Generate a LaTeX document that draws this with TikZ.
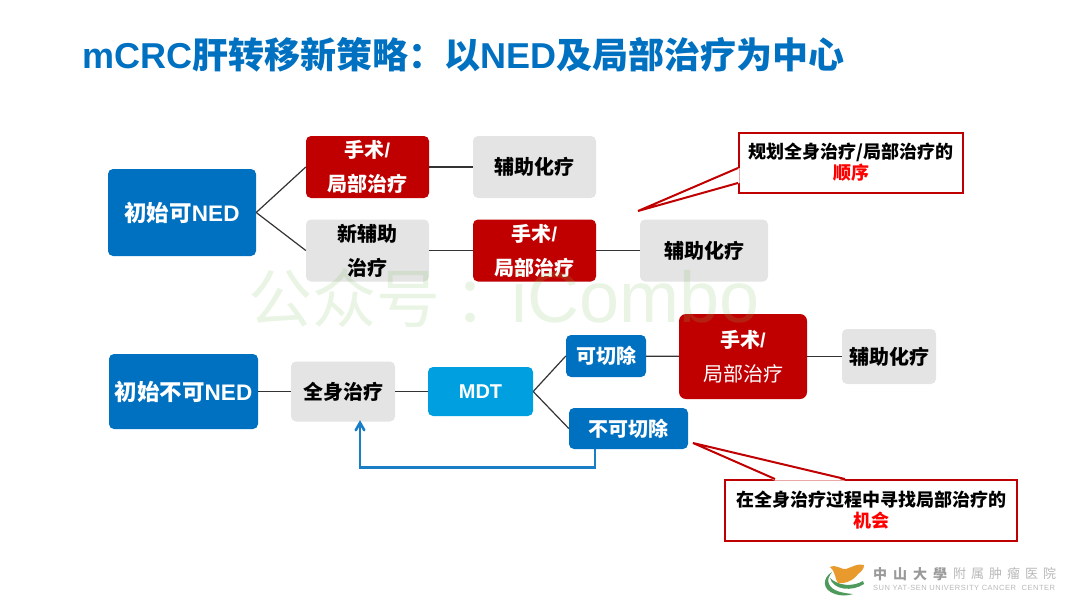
\documentclass[tikz,border=0pt]{standalone}
\usepackage{fontspec}
\setmainfont{Noto Sans CJK SC}
\newfontfamily\lat{Liberation Sans}
\newfontfamily\latspaced[LetterSpace=7]{Liberation Sans}
\usetikzlibrary{arrows}
\definecolor{titleblue}{HTML}{0070C0}
\definecolor{mdtblue}{HTML}{00A0E0}
\definecolor{boxred}{HTML}{C00000}
\definecolor{boxgray}{HTML}{E4E4E4}
\definecolor{markgreen}{HTML}{7FC060}
\definecolor{logoorange}{HTML}{E89A2C}
\definecolor{logogreen}{HTML}{4E9A5C}
\definecolor{logogray}{HTML}{9A9A9A}
\tikzstyle{box} = [rectangle, rounded corners=5pt, inner sep=0pt, align=center, font=\bfseries\fontsize{20}{34}\selectfont]
\tikzstyle{start} = [box, fill=titleblue, text=white, minimum width=148pt, font=\bfseries\fontsize{22.5}{34}\selectfont]
\tikzstyle{blue} = [box, fill=titleblue, text=white, minimum height=41pt]
\tikzstyle{surgery} = [box, fill=boxred, text=white, minimum width=123pt, minimum height=62pt]
\tikzstyle{grey} = [box, fill=boxgray, text=black, minimum width=123pt, minimum height=62pt]
\tikzstyle{note} = [rectangle, draw=boxred, line width=2pt, fill=white, inner sep=0pt, align=center, font=\bfseries\fontsize{18}{21}\selectfont]
\tikzstyle{tail} = [draw=boxred, line width=2pt, line join=miter]
\tikzstyle{line} = [line width=1.2pt, draw=black!80]
\tikzstyle{arrow} = [line width=2.6pt, draw=titleblue!90, ->, >=angle 60]
\begin{document}
\begin{tikzpicture}[x=1pt, y=-1pt]
    \useasboundingbox (0,0) rectangle (1080,608);
    \node (title) [anchor=west, text=titleblue, inner sep=0pt, font=\bfseries\fontsize{36}{40}\selectfont] at (82,55) {{\lat mCRC}肝转移新策略：以{\lat NED}及局部治疗为中心};

    \node (ned) [start, minimum height=87pt] at (182,212.5) {初始可{\lat NED}};
    \node (surgeryA) [surgery] at (367.5,167) {手术{\lat /}\\局部治疗};
    \node (chemoA) [grey, node distance=167pt, right of=surgeryA] {辅助化疗};
    \node (neo) [grey] at (367.5,250.5) {新辅助\\治疗};
    \node (surgeryB) [surgery, node distance=167pt, right of=neo] {手术{\lat /}\\局部治疗};
    \node (chemoB) [grey, minimum width=128pt, node distance=169.5pt, right of=surgeryB] {辅助化疗};

    \node (noned) [start, minimum width=149pt, minimum height=75pt] at (183.5,391.5) {初始不可{\lat NED}};
    \node (systemic) [grey, minimum width=104pt, minimum height=60pt, node distance=159.5pt, right of=noned] {全身治疗};
    \node (mdt) [box, fill=mdtblue, text=white, minimum width=105pt, minimum height=49pt, node distance=137.5pt, right of=systemic] {\lat MDT};
    \node (resect) [blue, minimum width=80pt, minimum height=42pt] at (606,356) {可切除};
    \node (unresect) [blue, minimum width=119pt] at (628.5,428.5) {不可切除};
    \node (surgeryC) [surgery, minimum width=128pt, minimum height=85pt, rounded corners=7pt] at (743,356.5) {手术{\lat /}\\{\mdseries 局部治疗}};
    \node (chemoC) [grey, minimum width=94pt, minimum height=55pt, node distance=146pt, right of=surgeryC] {辅助化疗};

    \draw [line] (ned.east) -- (surgeryA.west);
    \draw [line] (ned.east) -- (neo.west);
    \draw [line] (surgeryA) -- (chemoA);
    \draw [line] (neo) -- (surgeryB);
    \draw [line] (surgeryB) -- (chemoB);
    \draw [line] (noned) -- (systemic);
    \draw [line] (systemic) -- (mdt);
    \draw [line] (mdt.east) -- (resect.west);
    \draw [line] (mdt.east) -- (unresect.west);
    \draw [line] (resect) -- (surgeryC);
    \draw [line] (surgeryC) -- (chemoC);
    \draw [arrow] ([xshift=-33.5pt]unresect.south) -- ++(0,18) -| ([xshift=17pt,yshift=1.5pt]systemic.south);

    \node (orderNote) [note, minimum width=224pt, minimum height=60pt] at (851,162.5) {规划全身治疗/局部治疗的\\{\color{red}顺序}};
    \coordinate (orderTip) at (638,211);
    \fill [white] ([yshift=-5.5pt,xshift=1.5pt]orderNote.west) -- (orderTip) -- ([yshift=-20.5pt,xshift=1.5pt]orderNote.west) -- cycle;
    \draw [tail] ([yshift=-5.5pt]orderNote.west) -- (orderTip) -- ([yshift=-20.5pt]orderNote.west);

    \node (chanceNote) [note, minimum width=292pt, minimum height=61pt] at (871,510.5) {在全身治疗过程中寻找局部治疗的\\{\color{red}机会}};
    \coordinate (chanceTip) at (693,443);
    \fill [white] ([xshift=-96pt,yshift=-1.5pt]chanceNote.north) -- (chanceTip) -- ([xshift=-26pt,yshift=-1.5pt]chanceNote.north) -- cycle;
    \draw [tail] ([xshift=-96pt]chanceNote.north) -- (chanceTip) -- ([xshift=-26pt]chanceNote.north);

    \node (mark) [anchor=west, inner sep=0pt, text=markgreen, text opacity=.17, font=\fontsize{64}{70}\selectfont] at (248,298) {公众号\hspace{14pt}：\hspace{-7pt}{\lat\fontsize{72}{70}\selectfont iCombo}};

    \fill [logogreen] (832,572) .. controls (822,578) and (822,590) .. (835,594) .. controls (841,596) and (847,596) .. (853,594) .. controls (842,593) and (832,591) .. (829,584) .. controls (827,580) and (829,576) .. (832,572) -- cycle;
    \fill [logogreen] (830,578) .. controls (833,590) and (852,592) .. (864,584) -- (863,581) .. controls (853,587) and (838,586) .. (830,578) -- cycle;
    \fill [logoorange] (830,567) .. controls (837,564) and (841,570) .. (846,569) .. controls (852,567) and (858,563) .. (864,565) .. controls (864,569) and (861,572) .. (858,574) .. controls (854,580) and (846,584) .. (838,583) .. controls (835,580) and (836,572) .. (830,567) -- cycle;
    \node (logoName) [anchor=west, inner sep=0pt, text=logogray, font=\bfseries\fontsize{14}{16}\selectfont] at (873,574) {中\hspace{6pt}山\hspace{6pt}大\hspace{6pt}學};
    \node (logoHospital) [anchor=west, inner sep=0pt, text=logogray!70, font=\fontsize{13}{16}\selectfont] at (953,574) {附\hspace{5pt}属\hspace{5pt}肿\hspace{5pt}瘤\hspace{5pt}医\hspace{5pt}院};
    \node (logoEnglish) [anchor=west, inner sep=0pt, text=logogray!70, font=\latspaced\fontsize{7.5}{9}\selectfont] at ([yshift=-14pt]logoName.west) {SUN YAT-SEN UNIVERSITY CANCER\hspace{3pt} CENTER};
\end{tikzpicture}
\end{document}
